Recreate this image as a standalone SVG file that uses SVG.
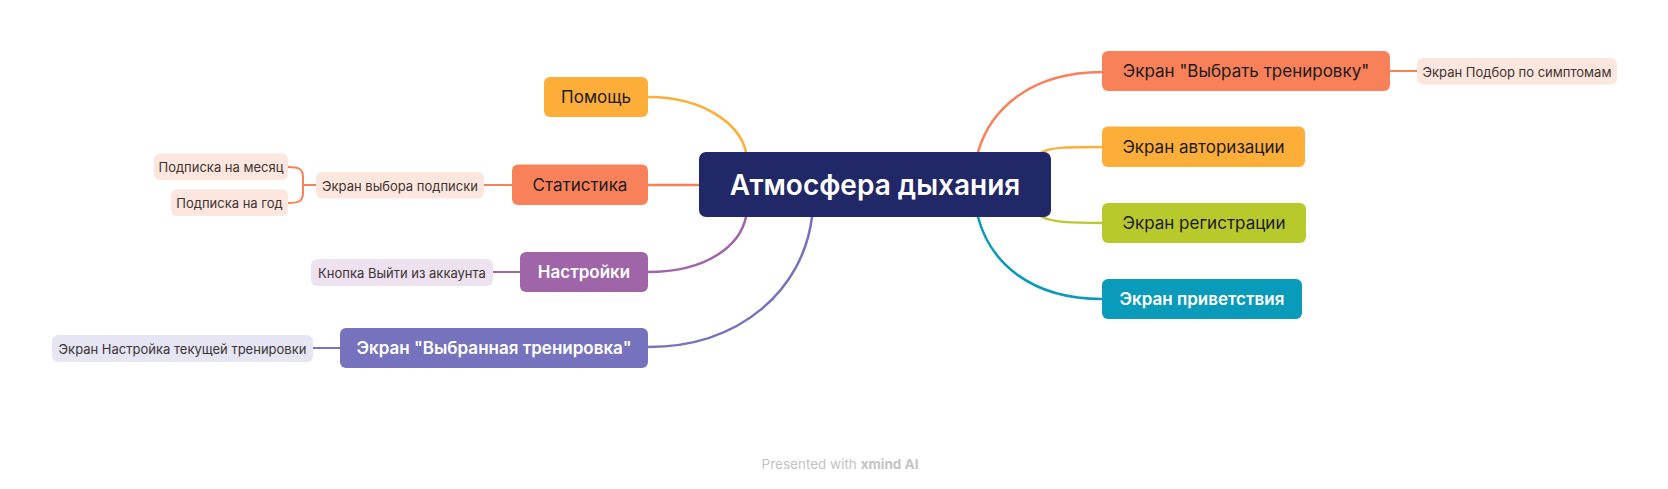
<svg xmlns="http://www.w3.org/2000/svg" width="1668" height="489" viewBox="0 0 1668 489">
<style>
text{font-family:Inter,"Noto Sans","Liberation Sans",sans-serif;text-anchor:middle;dominant-baseline:central}
.main{font-size:17px}
.dark{fill:#1b1b1b}
.light{fill:#ffffff;font-weight:600}
.sub{font-size:13px;fill:#3b3433}
.c{fill:none;stroke-width:2.5;stroke-linecap:round}
.s{fill:none;stroke-width:2;stroke-linecap:round}
</style>
<rect width="1668" height="489" fill="#ffffff"/>
<g id="connectors">
<path class="c" stroke="#FDAE38" d="M648,97 C705,97 740,125 746,152"/>
<path class="c" stroke="#F8815A" d="M648,185 L699,185"/>
<path class="c" stroke="#A064A9" d="M648,272 C708,272 740,245 746,217"/>
<path class="c" stroke="#7672BD" d="M648,347 C740,347 803,290 812,217"/>
<path class="c" stroke="#F8815A" d="M1102,72 C1030,72 990,110 978,152"/>
<path class="c" stroke="#FDAE38" d="M1102,147 C1070,147 1052,147 1042,152"/>
<path class="c" stroke="#B8C92B" d="M1102,223 C1070,223 1052,222 1042,217"/>
<path class="c" stroke="#0A9BBA" d="M1102,299 C1030,299 990,262 978,217"/>
<path class="s" stroke="#F8815A" d="M484,185 L512,185"/>
<path class="s" stroke="#F8815A" d="M316,185 L303,185"/>
<path class="s" stroke="#F8815A" d="M288,167 C299,167 303,169 303,177 L303,193 C303,201 299,203 288,203"/>
<path class="s" stroke="#A064A9" d="M493,272 L520,272"/>
<path class="s" stroke="#7672BD" d="M313,348 L340,348"/>
<path class="s" stroke="#F8815A" d="M1390,71 L1417,71"/>
</g>
<g id="central">
<rect x="699" y="152" width="352" height="65" rx="7" fill="#212867"/>
<text x="875" y="184.5" font-size="28" font-weight="600" fill="#ffffff">Атмосфера дыхания</text>
</g>
<g id="pomosch">
<rect x="544" y="77" width="104" height="40" rx="6" fill="#FDAE38"/>
<text class="main dark" x="596" y="97">Помощь</text>
</g>
<g id="statistika">
<rect x="512" y="164.5" width="136" height="40.5" rx="6" fill="#F8815A"/>
<text class="main dark" x="580" y="185">Статистика</text>
</g>
<g id="vybor-podpiski">
<rect x="316" y="172" width="168" height="26.5" rx="6" fill="#FDE6DE"/>
<text class="sub" x="400" y="185.5">Экран выбора подписки</text>
</g>
<g id="podpiska-mesyac">
<rect x="154" y="153.5" width="134" height="26.5" rx="6" fill="#FDE6DE"/>
<text class="sub" x="221" y="167">Подписка на месяц</text>
</g>
<g id="podpiska-god">
<rect x="171" y="189.5" width="117" height="26.5" rx="6" fill="#FDE6DE"/>
<text class="sub" x="229.5" y="203">Подписка на год</text>
</g>
<g id="nastroyki">
<rect x="520" y="252" width="128" height="40" rx="6" fill="#A064A9"/>
<text class="main light" x="584" y="272">Настройки</text>
</g>
<g id="knopka-vyiti">
<rect x="311" y="259" width="182" height="27" rx="6" fill="#EEE2F0"/>
<text class="sub" x="402" y="272.5">Кнопка Выйти из аккаунта</text>
</g>
<g id="vybrannaya">
<rect x="340" y="328" width="308" height="40" rx="6" fill="#7672BD"/>
<text class="main light" x="494" y="348">Экран "Выбранная тренировка"</text>
</g>
<g id="nastroyka-tekushchey">
<rect x="52" y="335" width="261" height="27" rx="6" fill="#E6E5F3"/>
<text class="sub" x="182.5" y="348.5">Экран Настройка текущей тренировки</text>
</g>
<g id="vybrat">
<rect x="1102" y="51" width="288" height="40" rx="6" fill="#F8815A"/>
<text class="main dark" x="1246" y="71">Экран "Выбрать тренировку"</text>
</g>
<g id="podbor">
<rect x="1417" y="58" width="200" height="26.5" rx="6" fill="#FDE6DE"/>
<text class="sub" x="1517" y="71.5">Экран Подбор по симптомам</text>
</g>
<g id="avtorizaciya">
<rect x="1102" y="126.5" width="203" height="40.5" rx="6" fill="#FDAE38"/>
<text class="main dark" x="1203.5" y="147">Экран авторизации</text>
</g>
<g id="registraciya">
<rect x="1102" y="203" width="204" height="40" rx="6" fill="#B8C92B"/>
<text class="main dark" x="1204" y="223">Экран регистрации</text>
</g>
<g id="privetstvie">
<rect x="1102" y="279" width="200" height="40" rx="6" fill="#0A9BBA"/>
<text class="main light" x="1202" y="299">Экран приветствия</text>
</g>
<g id="footer">
<text x="840" y="464" font-size="13.5" fill="#C4C4C4">Presented with <tspan font-weight="700">xmind AI</tspan></text>
</g>
</svg>
